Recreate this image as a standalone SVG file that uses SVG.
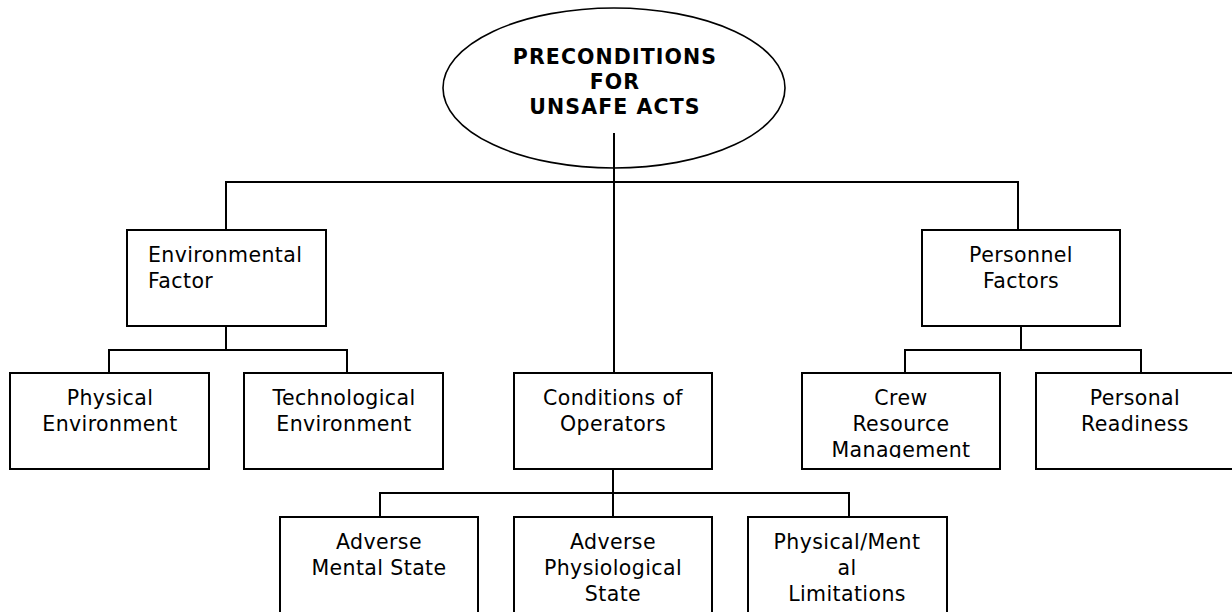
<svg xmlns="http://www.w3.org/2000/svg" width="1232" height="612" viewBox="0 0 1232 612">
<style>
.box{fill:#fff;stroke:#000;stroke-width:2}
.ell{fill:#fff;stroke:#000;stroke-width:1.6}
.ln{fill:none;stroke:#000;stroke-width:2}
text{font-family:"DejaVu Sans",Verdana,sans-serif;font-size:20.5px;fill:#000;letter-spacing:0.4px}
.c{text-anchor:middle}
.t{font-weight:bold;font-size:20.5px;letter-spacing:1.1px}
</style>
<defs>
<clipPath id="clipCrew"><rect x="802" y="373" width="198" height="85"/></clipPath>
</defs>
<rect width="1232" height="612" fill="#fff"/>
<g id="root">
<ellipse class="ell" cx="614" cy="88" rx="171" ry="80"/>
<text class="c t" x="615" y="64">PRECONDITIONS</text>
<text class="c t" x="615" y="89">FOR</text>
<text class="c t" x="615" y="114">UNSAFE ACTS</text>
</g>
<g id="connectors">
<path class="ln" d="M614 133V373M226 182H1018M226 181V230M1018 181V230"/>
<path class="ln" d="M226 326V350M109 350H347M109 349V373M347 349V373"/>
<path class="ln" d="M1021 326V350M905 350H1141M905 349V373M1141 349V373"/>
<path class="ln" d="M613 469V517M380 493H849M380 492V517M849 492V517"/>
</g>
<g id="env">
<rect class="box" x="127" y="230" width="199" height="96"/>
<text x="148" y="262">Environmental</text>
<text x="148" y="288">Factor</text>
</g>
<g id="personnel">
<rect class="box" x="922" y="230" width="198" height="96"/>
<text class="c" x="1021" y="262">Personnel</text>
<text class="c" x="1021" y="288">Factors</text>
</g>
<g id="physical">
<rect class="box" x="10" y="373" width="199" height="96"/>
<text class="c" x="110" y="405">Physical</text>
<text class="c" x="110" y="431">Environment</text>
</g>
<g id="tech">
<rect class="box" x="244" y="373" width="199" height="96"/>
<text class="c" x="344" y="405">Technological</text>
<text class="c" x="344" y="431">Environment</text>
</g>
<g id="conditions">
<rect class="box" x="514" y="373" width="198" height="96"/>
<text class="c" x="613" y="405">Conditions of</text>
<text class="c" x="613" y="431">Operators</text>
</g>
<g id="crew">
<rect class="box" x="802" y="373" width="198" height="96"/>
<g clip-path="url(#clipCrew)">
<text class="c" x="901" y="405">Crew</text>
<text class="c" x="901" y="431">Resource</text>
<text class="c" x="901" y="457">Management</text>
</g>
</g>
<g id="readiness">
<rect class="box" x="1036" y="373" width="200" height="96"/>
<text class="c" x="1135" y="405">Personal</text>
<text class="c" x="1135" y="431">Readiness</text>
</g>
<g id="mental">
<rect class="box" x="280" y="517" width="198" height="100"/>
<text class="c" x="379" y="549">Adverse</text>
<text class="c" x="379" y="575">Mental State</text>
</g>
<g id="physiological">
<rect class="box" x="514" y="517" width="198" height="100"/>
<text class="c" x="613" y="549">Adverse</text>
<text class="c" x="613" y="575">Physiological</text>
<text class="c" x="613" y="601">State</text>
</g>
<g id="limitations">
<rect class="box" x="748" y="517" width="199" height="100"/>
<text class="c" x="847" y="549">Physical/Ment</text>
<text class="c" x="847" y="575">al</text>
<text class="c" x="847" y="601">Limitations</text>
</g>
</svg>
